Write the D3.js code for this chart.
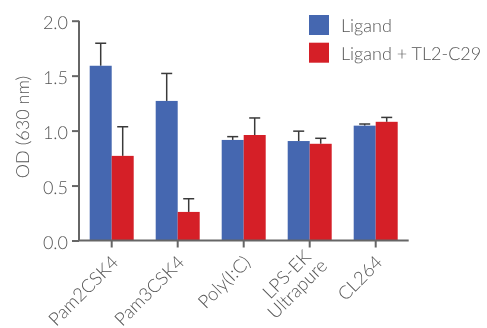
<!DOCTYPE html>
<html>
<head>
<meta charset="utf-8">
<script src="https://cdn.jsdelivr.net/npm/d3@7"></script>
<style>
  html, body { margin: 0; padding: 0; background: #fff; }
  svg { display: block; will-change: transform; }
  text { font-family: Lato, "Open Sans", sans-serif; font-weight: 300; fill: #555; }
</style>
</head>
<body>
<svg id="chart" width="487" height="328" text-rendering="geometricPrecision"></svg>
<script>
const categories = ["Pam2CSK4", "Pam3CSK4", "Poly(I:C)", "LPS-EK\nUltrapure", "CL264"];
const seriesNames = ["Ligand", "Ligand + TL2-C29"];
const ligandValues = [1.59, 1.27, 0.915, 0.905, 1.045];
const ligandErrors = [0.205, 0.25, 0.03, 0.09, 0.015];
const tl2Values = [0.77, 0.26, 0.96, 0.88, 1.08];
const tl2Errors = [0.265, 0.12, 0.155, 0.05, 0.04];
const yTicks = [0, 0.5, 1.0, 1.5, 2.0];
const colors = ["#4567b0", "#d51f27"];

const svg = d3.select("#chart");
const x0 = d3.scaleBand().domain(categories).range([78.7, 408.7]).paddingInner(0).paddingOuter(0);
const x1 = d3.scaleBand().domain(seriesNames).range([11, 55]);
const y = d3.scaleLinear().domain([0, 2]).range([240.5, 20.7]);

const rows = categories.map((c, i) => ({
  cat: c,
  vals: [
    { s: seriesNames[0], v: ligandValues[i], e: ligandErrors[i] },
    { s: seriesNames[1], v: tl2Values[i], e: tl2Errors[i] }
  ]
}));

const g = svg.append("g");
const groups = g.selectAll("g.grp").data(rows).join("g")
  .attr("transform", d => `translate(${x0(d.cat)},0)`);

// error bars (stem hidden behind bar)
groups.selectAll("g.err").data(d => d.vals).join("g").each(function(d) {
  const cx = x1(d.s) + x1.bandwidth() / 2;
  const sel = d3.select(this);
  sel.append("line").attr("x1", cx).attr("x2", cx)
    .attr("y1", y(d.v)).attr("y2", y(d.v + d.e))
    .attr("stroke", "#3a3a3a").attr("stroke-width", 1.5);
  sel.append("line").attr("x1", cx - 5.5).attr("x2", cx + 5.5)
    .attr("y1", y(d.v + d.e)).attr("y2", y(d.v + d.e))
    .attr("stroke", "#3a3a3a").attr("stroke-width", 1.5);
});

groups.selectAll("rect").data(d => d.vals).join("rect")
  .attr("x", d => x1(d.s))
  .attr("width", x1.bandwidth())
  .attr("y", d => y(d.v))
  .attr("height", d => y(0) - y(d.v))
  .attr("fill", (d, i) => colors[i]);

// Y axis
const yAxis = svg.append("g").attr("transform", "translate(79,0)")
  .call(d3.axisLeft(y).tickValues(yTicks).tickFormat(d3.format(".1f")).tickSize(7).tickPadding(4));
yAxis.select(".domain").attr("stroke", "#666").attr("stroke-width", 2)
  .attr("d", `M0,${y(2)}V${y(0)}`);
yAxis.selectAll(".tick line").attr("stroke", "#666").attr("stroke-width", 2);
yAxis.selectAll(".tick text").attr("font-size", 18).attr("dy", "0.43em")
  .style("font-family", "Lato, sans-serif").style("fill", "#555");

// X axis
const xAxis = svg.append("g").attr("transform", `translate(0,${y(0)})`)
  .call(d3.axisBottom(x0).tickSize(7).tickFormat(""));
xAxis.select(".domain").attr("stroke", "#666").attr("stroke-width", 2)
  .attr("d", `M78,0H408.7`);
xAxis.selectAll(".tick line").attr("stroke", "#666").attr("stroke-width", 2);

// rotated category labels
xAxis.selectAll(".tick").each(function(d) {
  const lines = d.split("\n");
  const t = d3.select(this).append("text")
    .attr("transform", "translate(8,23) rotate(-45)")
    .attr("text-anchor", "end")
    .attr("font-size", 18.5)
    .style("fill", "#555");
  if (lines.length === 1) {
    t.append("tspan").attr("x", 0).attr("y", 0).text(lines[0]);
  } else {
    t.append("tspan").attr("x", 0).attr("y", -8).text(lines[0]);
    t.append("tspan").attr("x", 5).attr("y", 10).text(lines[1]);
  }
});

// Y title
svg.append("text")
  .attr("transform", `translate(29,127) rotate(-90)`)
  .attr("text-anchor", "middle")
  .attr("font-size", 18)
  .style("fill", "#555")
  .text("OD (630 nm)");

// Legend
const legend = svg.append("g").attr("transform", "translate(309,15)");
seriesNames.forEach((s, i) => {
  legend.append("rect").attr("x", 0).attr("y", i * 27.7).attr("width", 20).attr("height", 20).attr("fill", colors[i]);
  legend.append("text").attr("x", 32).attr("y", i * 28 + 16.7).attr("font-size", 18).style("fill", "#555").text(s);
});
</script>
</body>
</html>
